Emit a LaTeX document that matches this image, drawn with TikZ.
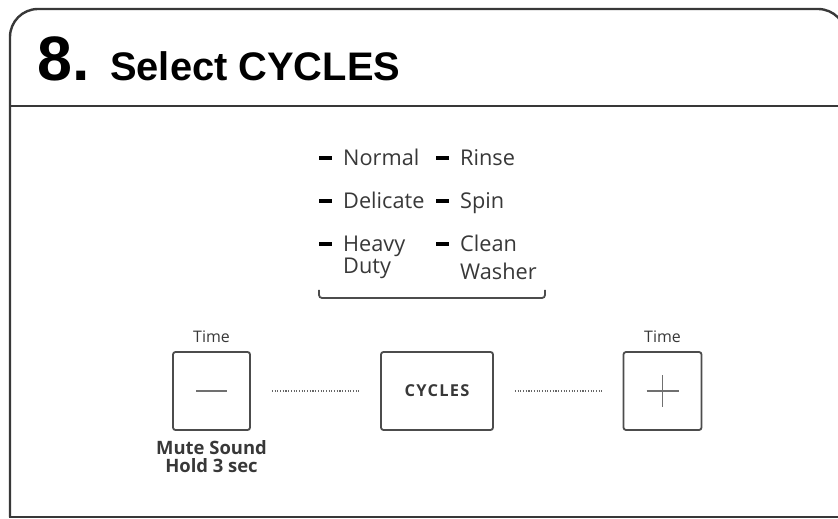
\documentclass[tikz,border=0pt]{standalone}
\usepackage{fontspec}
\setmainfont{Open Sans}
\newfontfamily\headfont{Liberation Sans}
\usetikzlibrary{positioning, calc}
\definecolor{framegray}{gray}{0.22}
\definecolor{textgray}{gray}{0.22}
\definecolor{keygray}{gray}{0.3}
\definecolor{dotgray}{gray}{0.4}
\tikzset{>=stealth}
\tikzset{
	item/.style={anchor=base west, inner sep=0pt, text=textgray, font=\fontsize{21.8}{22}\selectfont},
	bullet/.style={fill=black, minimum width=13bp, minimum height=4.5bp, inner sep=0pt},
	keybox/.style={draw=keygray, line width=1.8bp, rounded corners=2.5bp, inner sep=0pt, minimum height=78bp},
	keylabel/.style={text=textgray, font=\fontsize{16}{18}\selectfont},
	dotline/.style={dotgray, line width=1.3bp, dash pattern=on 1.1bp off 1.6bp, shorten <=21bp, shorten >=21bp},
	glyph/.style={keygray!80, line width=1.8bp}
}

\begin{document}
\begin{tikzpicture}[x=1bp, y=-1bp]
	\useasboundingbox (0,0) rectangle (838,519);

	% panel frame
	\draw [framegray, line width=2.4bp, rounded corners=28bp] (10,517) -- (10,9) -- (846,9) -- (846,517);
	\draw [framegray, line width=2.4bp] (9,517) -- (846,517);
	\draw [framegray, line width=2.4bp] (10,106) -- (846,106);

	\node [anchor=base west, inner sep=0pt] (step) at (37,81) {\headfont\bfseries\fontsize{63}{63}\selectfont 8.};
	\node [anchor=base west, inner sep=0pt] (title) at (110,81) {\headfont\bfseries\fontsize{40}{40}\selectfont Select CYCLES};

	% cycle list
	\node [bullet] (bn) at (325,158) {};
	\node [bullet] (bd) at (325,201) {};
	\node [bullet] (bh) at (325,244) {};
	\node [bullet] (br) at (442,158) {};
	\node [bullet] (bs) at (442,201) {};
	\node [bullet] (bc) at (442,244) {};

	\node [item] (normal) at (343,166) {Normal};
	\node [item] (delicate) at (343,209) {Delicate};
	\node [item] (heavy) at (343,252) {Heavy};
	\node [item] (duty) at (343,274) {Duty};
	\node [item] (rinse) at (460,166) {Rinse};
	\node [item] (spin) at (460,209) {Spin};
	\node [item] (clean) at (460,252) {Clean};
	\node [item] (washer) at (460,280) {Washer};

	\draw [keygray, line width=1.8bp, rounded corners=3bp] (319,290) -- (319,298) -- (545,298) -- (545,290);

	% keys
	\node [keybox, minimum width=77bp] (minus) at (211.5,391) {};
	\node [keybox, minimum width=112bp] (cycles) at (437,391) {\bfseries\fontsize{16.5}{18}\selectfont\color{textgray}C\kern1.2bp Y\kern1.2bp C\kern1.2bp L\kern1.2bp E\kern1.2bp S};
	\node [keybox, minimum width=78bp] (plus) at (662.5,391) {};

	\draw [glyph] ($(minus.center)+(-15.5,0)$) -- ++(31,0);
	\draw [glyph] ($(plus.center)+(-16,0)$) -- ++(32,0);
	\draw [glyph] ($(plus.center)+(0,-16)$) -- ++(0,32);

	\node [keylabel, above=5bp of minus] (timeminus) {Time};
	\node [keylabel, above=5bp of plus] (timeplus) {Time};
	\node [below=9bp of minus, align=center, inner sep=0pt, text=textgray, font=\bfseries\fontsize{18.5}{18.5}\selectfont] (mute) {Mute Sound\\Hold 3 sec};

	\draw [dotline] (minus) -- (cycles);
	\draw [dotline] (cycles) -- (plus);

\end{tikzpicture}
\end{document}
